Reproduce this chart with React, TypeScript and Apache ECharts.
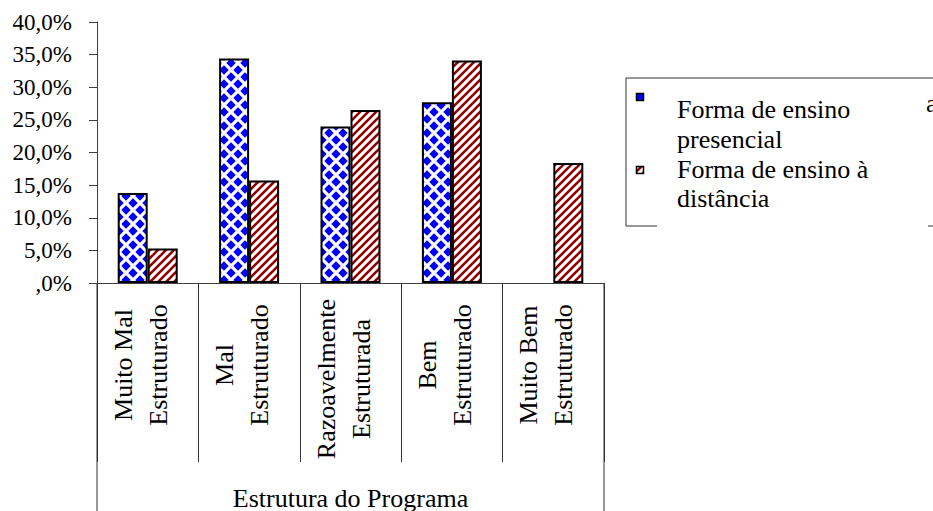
import React, { useEffect, useRef } from 'react';
import * as echarts from 'echarts';

// ---- data ----
const categories = [
  'Muito Mal\nEstruturado',
  'Mal\nEstruturado',
  'Razoavelmente\nEstruturada',
  'Bem\nEstruturado',
  'Muito Bem\nEstruturado',
];
const presencial = [13.8, 34.4, 24.0, 27.7, 0];
const distancia = [5.3, 15.7, 26.5, 34.1, 18.4];
const seriesNames = ['Forma de ensino presencial', 'Forma de ensino à distância'];
const legendLines = [
  ['Forma de ensino', 'presencial'],
  ['Forma de ensino à', 'distância'],
];
const axisTitle = 'Estrutura do Programa';
const yMin = 0;
const yMax = 40;
const yStep = 5;

const FONT = "'Liberation Serif', 'Times New Roman', serif";
const BLUE = '#0000ff';
const RED = '#8f0000';

function makeDiamondTile(): HTMLCanvasElement {
  const s = 14;
  const c = document.createElement('canvas');
  c.width = s;
  c.height = s;
  const g = c.getContext('2d')!;
  g.fillStyle = '#ffffff';
  g.fillRect(0, 0, s, s);
  g.fillStyle = BLUE;
  const r = 4.7;
  const centers = [
    [s / 2, s / 2],
    [0, 0],
    [s, 0],
    [0, s],
    [s, s],
  ];
  for (const [cx, cy] of centers) {
    g.beginPath();
    g.moveTo(cx, cy - r);
    g.lineTo(cx + r, cy);
    g.lineTo(cx, cy + r);
    g.lineTo(cx - r, cy);
    g.closePath();
    g.fill();
  }
  return c;
}

function makeStripeTile(): HTMLCanvasElement {
  const s = 8;
  const c = document.createElement('canvas');
  c.width = s;
  c.height = s;
  const g = c.getContext('2d')!;
  g.fillStyle = '#ffffff';
  g.fillRect(0, 0, s, s);
  g.strokeStyle = RED;
  g.lineWidth = 2.6;
  const segs = [
    [-2, s + 2, s + 2, -2],
    [-2, 2, 2, -2],
    [s - 2, s + 2, s + 2, s - 2],
  ];
  for (const [x1, y1, x2, y2] of segs) {
    g.beginPath();
    g.moveTo(x1, y1);
    g.lineTo(x2, y2);
    g.stroke();
  }
  return c;
}

function fmtPct(v: number): string {
  if (v === 0) return ',0%';
  return v.toFixed(1).replace('.', ',') + '%';
}

function fmtCategory(value: string, index: number): string {
  const tail = index === 2 ? '{g| }' : '';
  const lines = value.split('\n').map((l) => `{a|${l}}${tail}`);
  return lines.join('\n') + '\n{s| }';
}

export default function App() {
  const ref = useRef<HTMLDivElement>(null);

  useEffect(() => {
    if (!ref.current) return;
    const chart = echarts.init(ref.current, undefined, { renderer: 'svg' });
    const diamond = makeDiamondTile();
    const stripe = makeStripeTile();
    const bluePattern: any = { image: diamond, repeat: 'repeat', imageWidth: 14, imageHeight: 14 };
    const redPattern: any = { image: stripe, repeat: 'repeat', imageWidth: 8, imageHeight: 8 };

    const gridLeft = 97;
    const gridRight = 329;
    const gridTop = 22;
    const gridBottom = 228;
    const W = 933;
    const H = 511;
    const axisY = H - gridBottom;
    const rightX = W - gridRight;

    const lineStyle = { stroke: '#333', lineWidth: 1 };
    const txt = (text: string, x: number, y: number, size: number, align: string) => ({
      type: 'text',
      x,
      y,
      silent: true,
      style: {
        text,
        fontFamily: FONT,
        fontSize: size,
        fill: '#000',
        align,
        verticalAlign: 'middle',
      },
    });
    const graphic: any[] = [
      { type: 'line', shape: { x1: gridLeft, y1: axisY, x2: gridLeft, y2: H }, style: lineStyle, silent: true },
      { type: 'line', shape: { x1: rightX, y1: axisY, x2: rightX, y2: H }, style: lineStyle, silent: true },
      txt(axisTitle, (gridLeft + rightX) / 2, 498, 26, 'center'),
      // legend frame
      { type: 'line', shape: { x1: 626, y1: 78, x2: 933, y2: 78 }, style: lineStyle, silent: true },
      { type: 'line', shape: { x1: 626, y1: 78, x2: 626, y2: 226 }, style: lineStyle, silent: true },
      { type: 'line', shape: { x1: 626, y1: 226, x2: 657, y2: 226 }, style: lineStyle, silent: true },
      { type: 'line', shape: { x1: 928, y1: 226, x2: 933, y2: 226 }, style: lineStyle, silent: true },
      {
        type: 'rect',
        shape: { x: 636.5, y: 93.5, width: 7, height: 7 },
        style: { fill: BLUE, stroke: '#000', lineWidth: 1.5 },
        silent: true,
      },
      {
        type: 'rect',
        shape: { x: 636.5, y: 166.5, width: 7, height: 7 },
        style: { fill: redPattern, stroke: '#000', lineWidth: 1.5 },
        silent: true,
      },
      txt('a', 926, 103, 26, 'left'),
    ];
    const lineCenters = [109, 139, 169, 198];
    let k = 0;
    legendLines.forEach((item) => {
      item.forEach((t) => {
        graphic.push(txt(t, 677, lineCenters[k++], 26, 'left'));
      });
    });

    chart.setOption({
      animation: false,
      grid: {
        left: gridLeft,
        right: gridRight,
        top: gridTop,
        bottom: gridBottom,
        containLabel: false,
        outerBoundsMode: 'none',
      },
      xAxis: {
        type: 'category',
        data: categories,
        axisLine: { show: true, lineStyle: { color: '#404040', width: 1 } },
        axisTick: { show: true, length: 179, lineStyle: { color: '#333', width: 1 } },
        axisLabel: {
          interval: 0,
          rotate: 90,
          align: 'center',
          verticalAlign: 'middle',
          margin: 82,
          formatter: fmtCategory,
          color: '#000',
          rich: {
            a: { fontFamily: FONT, fontSize: 26, lineHeight: 35, color: '#000' },
            g: { fontFamily: FONT, fontSize: 26, lineHeight: 35, width: 28 },
            s: { fontFamily: FONT, fontSize: 8, lineHeight: 14 },
          },
        },
      },
      yAxis: {
        type: 'value',
        min: yMin,
        max: yMax,
        interval: yStep,
        axisLine: { show: true, lineStyle: { color: '#404040', width: 1 } },
        axisTick: { show: true, length: 8, lineStyle: { color: '#404040' } },
        splitLine: { show: false },
        axisLabel: {
          formatter: fmtPct,
          margin: 25,
          fontFamily: FONT,
          fontSize: 23,
          color: '#000',
        },
      },
      series: [
        {
          name: seriesNames[0],
          type: 'bar',
          barWidth: 30,
          barGap: '0%',
          data: presencial.map((v) => (v === 0 ? null : v)),
          itemStyle: { color: bluePattern, borderColor: '#000', borderWidth: 2 },
        },
        {
          name: seriesNames[1],
          type: 'bar',
          barWidth: 30,
          barGap: '0%',
          data: distancia,
          itemStyle: { color: redPattern, borderColor: '#000', borderWidth: 2 },
        },
      ],
      graphic,
    });
    return () => chart.dispose();
  }, []);

  return (
    <div
      ref={ref}
      style={{ position: 'fixed', left: 0, top: 0, width: 933, height: 511, background: '#fff' }}
    />
  );
}
